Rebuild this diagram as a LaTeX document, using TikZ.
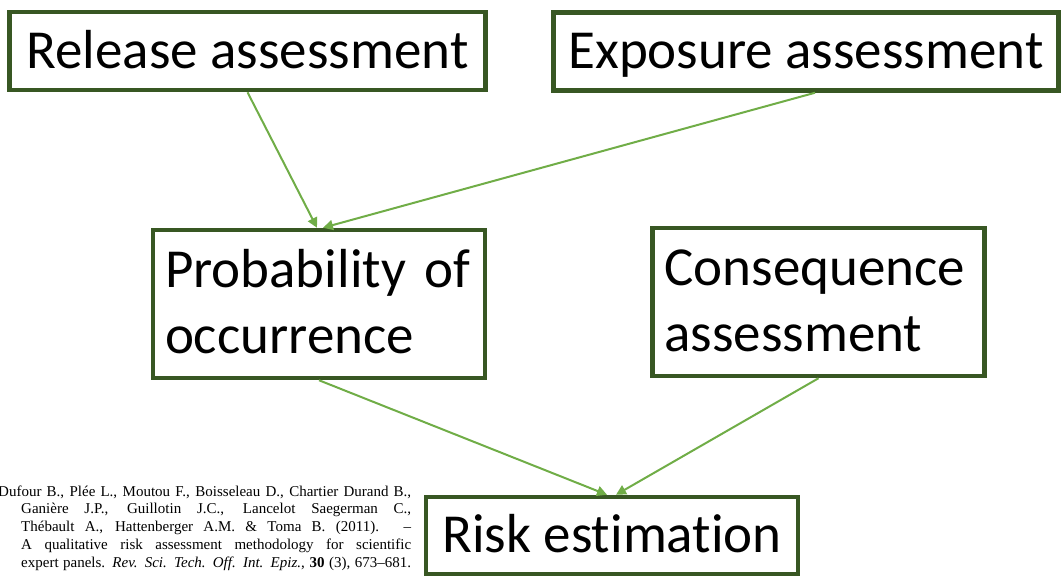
\documentclass[tikz,border=0pt]{standalone}
\usepackage{fontspec}
\setmainfont{Carlito}[Ligatures=NoCommon]
\newfontfamily\citefont{Liberation Serif}
\usetikzlibrary{arrows.meta, positioning}
\definecolor{boxgreen}{RGB}{56,87,35}
\definecolor{arrowgreen}{RGB}{112,173,71}

\begin{document}
\begin{tikzpicture}[x=1pt, y=-1pt]
\useasboundingbox (0,0) rectangle (1063,576);

\begin{scope}[every node/.style={shape=rectangle,
    draw=boxgreen, line width=4.5pt, fill=white,
    font=\fontsize{55}{66}\selectfont, text height=40pt,
    inner xsep=15pt, inner ysep=4pt},
    one/.style={text depth=6pt, minimum height=78pt},
    two/.style={text depth=74pt, minimum height=148pt,
    text width=308pt, inner xsep=12pt, align=left}]
    \node[one, minimum width=476pt] (rel) at (247.5,51) {Release assessment};
    \node[one, minimum width=497.5pt] (exp) at (806,51.5) {Exposure assessment};
    \node[two] (prob) at (319,304) {Probability of\\occurrence};
    \node[two] (cons) at (818.5,302) {Consequence\\assessment};
    \node[one, minimum width=372pt, minimum height=77pt] (risk) at (612,535.5) {Risk estimation};
\end{scope}

\node[anchor=base west, inner sep=0pt, text width=413pt, align=justify,
    font=\citefont\fontsize{15}{17.75}\selectfont] (cite) at (-2,496)
    {\hangindent=23pt\hangafter=1\parfillskip=0pt
    Dufour B., Plée L., Moutou F., Boisseleau D., Chartier Durand B.,\linebreak
    Ganière J.P., Guillotin J.C., Lancelot Saegerman C.,\linebreak
    Thébault A., Hattenberger A.M. \& Toma B. (2011). –\linebreak
    A qualitative risk assessment methodology for scientific\linebreak
    expert panels. \textit{Rev. Sci. Tech. Off. Int. Epiz.}, \textbf{30} (3), 673–681.\par};

\begin{scope}[every edge/.style={draw=arrowgreen, line width=2pt,
    -{Triangle[length=10pt,width=10pt]}}]
    \path (rel.south) edge ([xshift=-2pt]prob.north);
    \path ([xshift=9pt]exp.south) edge ([xshift=4pt]prob.north);
    \path (prob.south) edge ([xshift=-5pt]risk.north);
    \path (cons.south) edge ([xshift=4pt]risk.north);
\end{scope}
\end{tikzpicture}
\end{document}
